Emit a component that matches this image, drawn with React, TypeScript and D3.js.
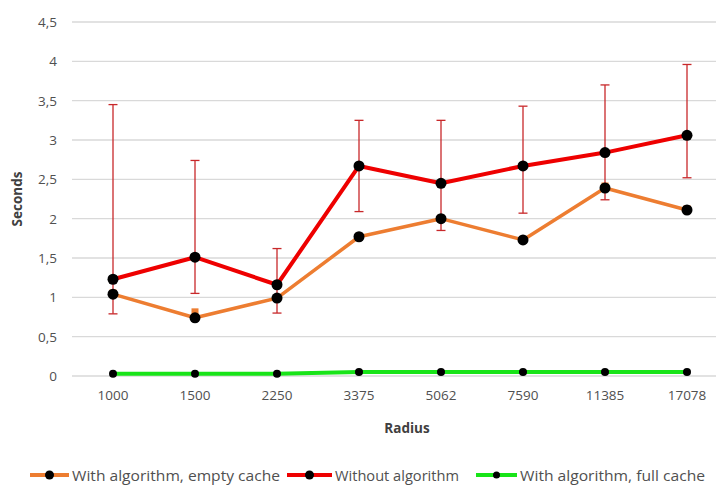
import { useEffect, useRef } from "react";
import * as d3 from "d3";

const radii = ["1000", "1500", "2250", "3375", "5062", "7590", "11385", "17078"];
const emptyCache = [1.04, 0.74, 0.99, 1.77, 2.0, 1.73, 2.39, 2.11];
const emptyCacheHigh = [1.1, 0.86, 0.99, 1.82, 2.05, 1.73, 2.46, 2.17];
const withoutAlgo = [1.23, 1.51, 1.16, 2.67, 2.45, 2.67, 2.84, 3.06];
const withoutLow = [0.79, 1.05, 0.8, 2.09, 1.85, 2.07, 2.24, 2.52];
const withoutHigh = [3.45, 2.74, 1.62, 3.25, 3.25, 3.43, 3.7, 3.96];
const fullCache = [0.03, 0.03, 0.03, 0.05, 0.05, 0.05, 0.05, 0.05];
const yTicks = [0, 0.5, 1, 1.5, 2, 2.5, 3, 3.5, 4, 4.5];
const legendLabels = ["With algorithm, empty cache", "Without algorithm", "With algorithm, full cache"];

const FONT = "'Open Sans', 'Noto Sans', sans-serif";
const ORANGE = "#ed7d31";
const RED = "#ee0000";
const GREEN = "#18e418";
const ERR = "#c8282a";

export default function App() {
  const svgRef = useRef<SVGSVGElement | null>(null);
  const width = 718;
  const height = 485;

  useEffect(() => {
    if (!svgRef.current) return;
    const svg = d3.select(svgRef.current);
    svg.selectAll("*").remove();

    const x = d3.scaleBand().domain(radii).range([72, 728]);
    const cx = (d: string) => (x(d) as number) + x.bandwidth() / 2;
    const y = d3.scaleLinear().domain([0, 4.5]).range([376, 22]);

    // grid
    svg.append("g")
      .selectAll("line")
      .data(yTicks)
      .enter()
      .append("line")
      .attr("x1", 72)
      .attr("x2", 716)
      .attr("y1", d => y(d))
      .attr("y2", d => y(d))
      .attr("stroke", "#d9d9d9")
      .attr("stroke-width", 1.3);

    // y tick labels
    svg.append("g")
      .selectAll("text")
      .data(yTicks)
      .enter()
      .append("text")
      .attr("x", 57)
      .attr("y", d => y(d) + 5)
      .attr("text-anchor", "end")
      .style("font-family", FONT)
      .style("font-size", "13.5px")
      .style("fill", "#505050")
      .text(d => String(d).replace(".", ","));

    // x tick labels
    svg.append("g")
      .selectAll("text")
      .data(radii)
      .enter()
      .append("text")
      .attr("x", d => cx(d))
      .attr("y", 400)
      .attr("text-anchor", "middle")
      .style("font-family", FONT)
      .style("font-size", "13.5px")
      .style("fill", "#505050")
      .text(d => d);

    svg.append("text")
      .attr("x", 407)
      .attr("y", 433)
      .attr("text-anchor", "middle")
      .style("font-family", FONT)
      .style("font-size", "13.5px")
      .style("font-weight", "bold")
      .style("fill", "#404040")
      .text("Radius");

    svg.append("text")
      .attr("transform", "translate(22,199) rotate(-90)")
      .attr("text-anchor", "middle")
      .style("font-family", FONT)
      .style("font-size", "13.5px")
      .style("font-weight", "bold")
      .style("fill", "#404040")
      .text("Seconds");

    const line = d3.line<number>()
      .x((_, i) => cx(radii[i]))
      .y(d => y(d));

    // orange small error caps
    const oe = svg.append("g");
    emptyCache.forEach((v, i) => {
      const hi = emptyCacheHigh[i];
      if (hi - v < 0.02) return;
      oe.append("line")
        .attr("x1", cx(radii[i])).attr("x2", cx(radii[i]))
        .attr("y1", y(v)).attr("y2", y(hi))
        .attr("stroke", ORANGE).attr("stroke-width", 7);
    });

    // red error bars
    const re = svg.append("g");
    withoutAlgo.forEach((_, i) => {
      const px = cx(radii[i]);
      re.append("line")
        .attr("x1", px).attr("x2", px)
        .attr("y1", y(withoutLow[i])).attr("y2", y(withoutHigh[i]))
        .attr("stroke", ERR).attr("stroke-width", 1.3);
      [withoutLow[i], withoutHigh[i]].forEach(v => {
        re.append("line")
          .attr("x1", px - 4.5).attr("x2", px + 4.5)
          .attr("y1", y(v)).attr("y2", y(v))
          .attr("stroke", ERR).attr("stroke-width", 1.3);
      });
    });

    const series = [
      { data: emptyCache, color: ORANGE, w: 3.5, r: 5.5 },
      { data: withoutAlgo, color: RED, w: 4, r: 5.5 },
      { data: fullCache, color: GREEN, w: 4, r: 4 },
    ];

    series.forEach(s => {
      svg.append("path")
        .attr("d", line(s.data))
        .attr("fill", "none")
        .attr("stroke", s.color)
        .attr("stroke-width", s.w)
        .attr("stroke-linejoin", "round");
      svg.append("g")
        .selectAll("circle")
        .data(s.data)
        .enter()
        .append("circle")
        .attr("cx", (_, i) => cx(radii[i]))
        .attr("cy", d => y(d))
        .attr("r", s.r)
        .attr("fill", "#000");
    });

    // legend
    const legend = [
      { label: legendLabels[0], color: ORANGE, x0: 30, x1: 69, tl: 208, r: 4.5 },
      { label: legendLabels[1], color: RED, x0: 287, x1: 332, tl: 124, r: 4.5 },
      { label: legendLabels[2], color: GREEN, x0: 476, x1: 517, tl: 185, r: 3.5 },
    ];
    const lg = svg.append("g");
    legend.forEach(l => {
      lg.append("line")
        .attr("x1", l.x0).attr("x2", l.x1)
        .attr("y1", 475).attr("y2", 475)
        .attr("stroke", l.color).attr("stroke-width", 4);
      lg.append("circle")
        .attr("cx", (l.x0 + l.x1) / 2).attr("cy", 475)
        .attr("r", l.r).attr("fill", "#000");
      lg.append("text")
        .attr("x", l.x1 + 3)
        .attr("y", 480.5)
        .attr("textLength", l.tl)
        .attr("lengthAdjust", "spacingAndGlyphs")
        .style("font-family", FONT)
        .style("font-size", "14.5px")
        .style("fill", "#505050")
        .text(l.label);
    });
  }, []);

  return (
    <svg
      ref={svgRef}
      width={width}
      height={height}
      style={{ position: "absolute", left: 0, top: 0, background: "#fff" }}
    />
  );
}
